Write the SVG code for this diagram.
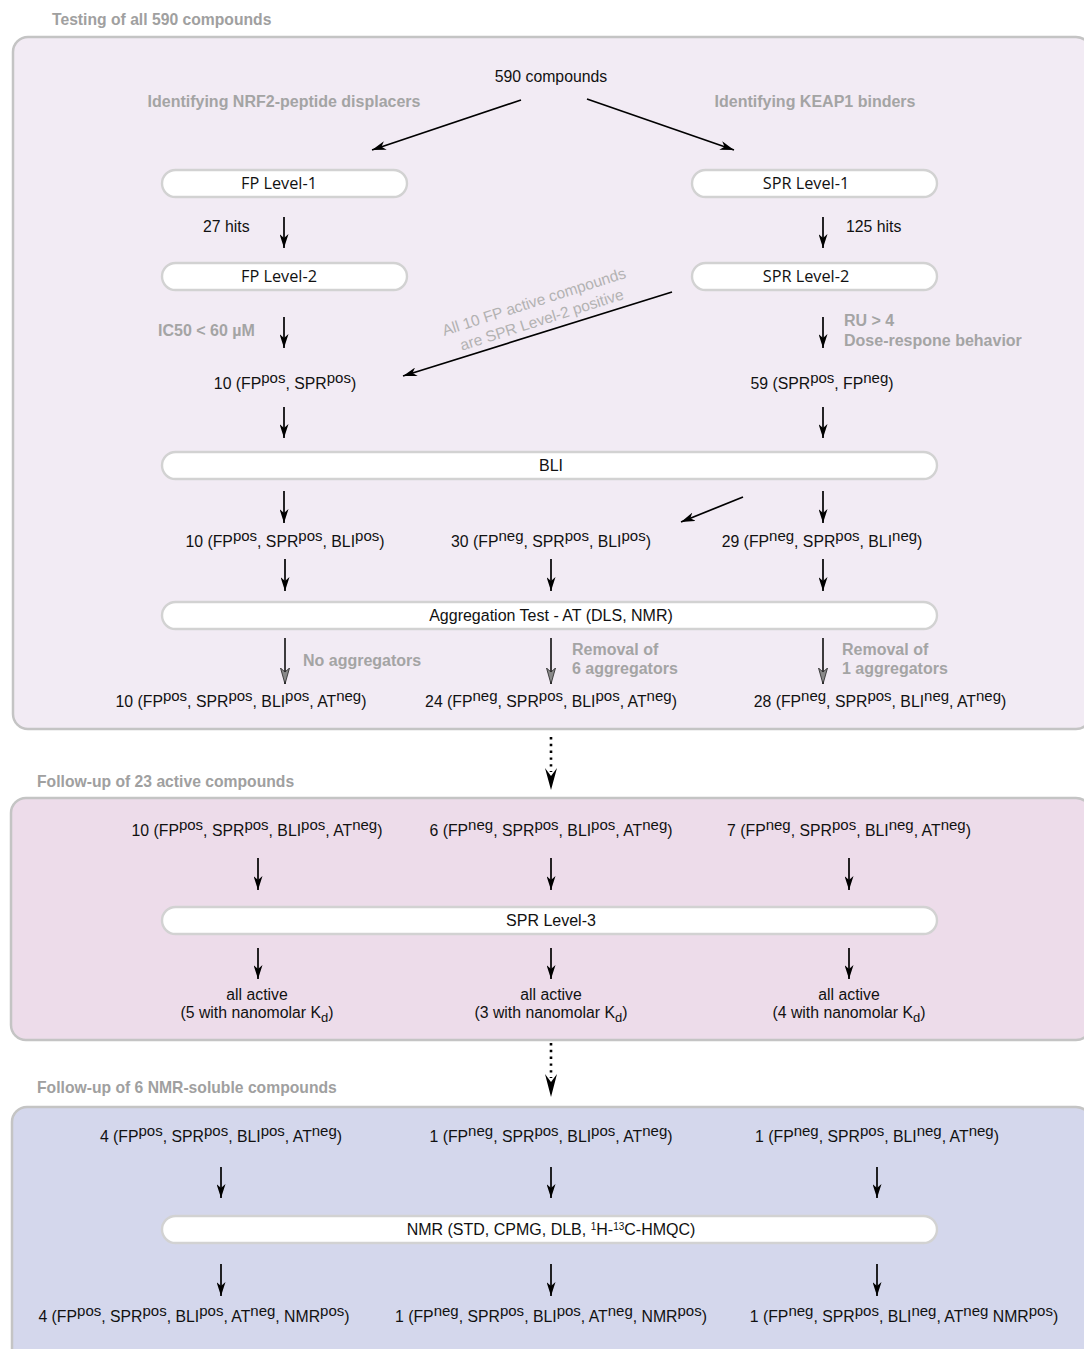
<svg xmlns="http://www.w3.org/2000/svg" width="1084" height="1349" viewBox="0 0 1084 1349">
<defs>
<style>
.t{font-family:"Liberation Sans",Arial,sans-serif;font-size:15.8px;fill:#111;text-anchor:middle}
.ts{text-anchor:start}
.sp{font-size:15px}
.sb{font-size:13px}
.g{font-family:"Liberation Sans",Arial,sans-serif;font-weight:bold;font-size:16px;fill:#a4a4a4}
.h{font-family:"Liberation Sans",Arial,sans-serif;font-weight:bold;font-size:15.7px;fill:#a0a0a0}
.rot{font-family:"Liberation Sans",Arial,sans-serif;font-size:15.5px;fill:#b2b2b2;text-anchor:middle}
.pl{font-family:"Open Sans","Noto Sans",sans-serif;font-size:16.3px;fill:#111;text-anchor:middle}
.pl2{font-family:"Liberation Sans",Arial,sans-serif;font-size:16px;fill:#111;text-anchor:middle}
.pill{fill:#fff;stroke:#d2d2d2;stroke-width:2.4}
.sec{stroke:#c4c4c4;stroke-width:2.5}
.c{stroke:#000;stroke-width:1.7;fill:none;marker-end:url(#ah)}
.c2{stroke:#000;stroke-width:1.5;fill:none;marker-end:url(#ah2)}
.dot{stroke:#000;stroke-width:2.6;stroke-dasharray:2.4 4.4;fill:none}
</style>
<marker id="ah" viewBox="0 0 14 9" refX="14" refY="4.5" markerWidth="14" markerHeight="9" markerUnits="userSpaceOnUse" orient="auto">
<path d="M0,0 L14,4.5 L0,9 L4,4.5 z" fill="#000"/>
</marker>
<marker id="ah2" viewBox="0 0 16 10" refX="16" refY="5" markerWidth="16" markerHeight="10" markerUnits="userSpaceOnUse" orient="auto">
<path d="M0,0.5 L16,5 L0,9.5 L4,5 z" fill="#8a8a8a" stroke="#222" stroke-width="0.8"/>
</marker>
</defs>
<rect width="1084" height="1349" fill="#fff"/>

<g id="section1">
<text class="h" x="52" y="25">Testing of all 590 compounds</text>
<rect class="sec" x="13" y="37" width="1078" height="692" rx="15" fill="#f2ebf4"/>
</g>
<g id="section2">
<text class="h" x="37" y="787">Follow-up of 23 active compounds</text>
<rect class="sec" x="11" y="798" width="1080" height="242" rx="15" fill="#eddcea"/>
</g>
<g id="section3">
<text class="h" x="37" y="1093">Follow-up of 6 NMR-soluble compounds</text>
<rect class="sec" x="12" y="1107" width="1079" height="260" rx="15" fill="#d4d7ec"/>
</g>

<g id="n590"><text class="t" x="551" y="82">590 compounds</text></g>
<g id="lblNRF2"><text class="g" x="284" y="107" text-anchor="middle">Identifying NRF2-peptide displacers</text></g>
<g id="lblKEAP1"><text class="g" x="815" y="107" text-anchor="middle">Identifying KEAP1 binders</text></g>

<g id="fp1"><rect class="pill" x="162" y="170" width="245" height="27" rx="13.5"/><text class="pl" x="279" y="189">FP Level-1</text></g>
<g id="spr1"><rect class="pill" x="692" y="170" width="245" height="27" rx="13.5"/><text class="pl" x="806" y="189">SPR Level-1</text></g>
<g id="lbl27"><text class="t ts" x="203" y="232">27 hits</text></g>
<g id="lbl125"><text class="t ts" x="846" y="232">125 hits</text></g>
<g id="fp2"><rect class="pill" x="162" y="263" width="245" height="27" rx="13.5"/><text class="pl" x="279" y="282">FP Level-2</text></g>
<g id="spr2"><rect class="pill" x="692" y="263" width="245" height="27" rx="13.5"/><text class="pl" x="806" y="282">SPR Level-2</text></g>
<g id="lblIC50"><text class="g" x="158" y="336">IC50 &lt; 60 µM</text></g>
<g id="lblRU"><text class="g" x="844" y="326">RU &gt; 4</text><text class="g" x="844" y="346">Dose-respone behavior</text></g>
<g id="lblAll10" transform="translate(534,302) rotate(-17.7)">
<text class="rot" x="0" y="5">All 10 FP active compounds</text>
<text class="rot" x="2" y="24.5">are SPR Level-2 positive</text>
</g>
<g id="n10a"><text class="t" x="285" y="389">10 (FP<tspan class="sp" dy="-6">pos</tspan><tspan dy="6">, SPR</tspan><tspan class="sp" dy="-6">pos</tspan><tspan dy="6">)</tspan></text></g>
<g id="n59"><text class="t" x="822" y="389">59 (SPR<tspan class="sp" dy="-6">pos</tspan><tspan dy="6">, FP</tspan><tspan class="sp" dy="-6">neg</tspan><tspan dy="6">)</tspan></text></g>
<g id="bli"><rect class="pill" x="162" y="452" width="775" height="27" rx="13.5"/><text class="pl2" x="551" y="471">BLI</text></g>
<g id="n10b"><text class="t" x="285" y="547">10 (FP<tspan class="sp" dy="-6">pos</tspan><tspan dy="6">, SPR</tspan><tspan class="sp" dy="-6">pos</tspan><tspan dy="6">, BLI</tspan><tspan class="sp" dy="-6">pos</tspan><tspan dy="6">)</tspan></text></g>
<g id="n30"><text class="t" x="551" y="547">30 (FP<tspan class="sp" dy="-6">neg</tspan><tspan dy="6">, SPR</tspan><tspan class="sp" dy="-6">pos</tspan><tspan dy="6">, BLI</tspan><tspan class="sp" dy="-6">pos</tspan><tspan dy="6">)</tspan></text></g>
<g id="n29"><text class="t" x="822" y="547">29 (FP<tspan class="sp" dy="-6">neg</tspan><tspan dy="6">, SPR</tspan><tspan class="sp" dy="-6">pos</tspan><tspan dy="6">, BLI</tspan><tspan class="sp" dy="-6">neg</tspan><tspan dy="6">)</tspan></text></g>
<g id="at"><rect class="pill" x="162" y="602" width="775" height="27" rx="13.5"/><text class="pl2" x="551" y="621">Aggregation Test - AT (DLS, NMR)</text></g>
<g id="lblNoAgg"><text class="g" x="303" y="666">No aggregators</text></g>
<g id="lblRem6"><text class="g" x="572" y="655">Removal of</text><text class="g" x="572" y="674">6 aggregators</text></g>
<g id="lblRem1"><text class="g" x="842" y="655">Removal of</text><text class="g" x="842" y="674">1 aggregators</text></g>
<g id="n10c"><text class="t" x="241" y="707">10 (FP<tspan class="sp" dy="-6">pos</tspan><tspan dy="6">, SPR</tspan><tspan class="sp" dy="-6">pos</tspan><tspan dy="6">, BLI</tspan><tspan class="sp" dy="-6">pos</tspan><tspan dy="6">, AT</tspan><tspan class="sp" dy="-6">neg</tspan><tspan dy="6">)</tspan></text></g>
<g id="n24"><text class="t" x="551" y="707">24 (FP<tspan class="sp" dy="-6">neg</tspan><tspan dy="6">, SPR</tspan><tspan class="sp" dy="-6">pos</tspan><tspan dy="6">, BLI</tspan><tspan class="sp" dy="-6">pos</tspan><tspan dy="6">, AT</tspan><tspan class="sp" dy="-6">neg</tspan><tspan dy="6">)</tspan></text></g>
<g id="n28"><text class="t" x="880" y="707">28 (FP<tspan class="sp" dy="-6">neg</tspan><tspan dy="6">, SPR</tspan><tspan class="sp" dy="-6">pos</tspan><tspan dy="6">, BLI</tspan><tspan class="sp" dy="-6">neg</tspan><tspan dy="6">, AT</tspan><tspan class="sp" dy="-6">neg</tspan><tspan dy="6">)</tspan></text></g>

<g id="s2a"><text class="t" x="257" y="836">10 (FP<tspan class="sp" dy="-6">pos</tspan><tspan dy="6">, SPR</tspan><tspan class="sp" dy="-6">pos</tspan><tspan dy="6">, BLI</tspan><tspan class="sp" dy="-6">pos</tspan><tspan dy="6">, AT</tspan><tspan class="sp" dy="-6">neg</tspan><tspan dy="6">)</tspan></text></g>
<g id="s2b"><text class="t" x="551" y="836">6 (FP<tspan class="sp" dy="-6">neg</tspan><tspan dy="6">, SPR</tspan><tspan class="sp" dy="-6">pos</tspan><tspan dy="6">, BLI</tspan><tspan class="sp" dy="-6">pos</tspan><tspan dy="6">, AT</tspan><tspan class="sp" dy="-6">neg</tspan><tspan dy="6">)</tspan></text></g>
<g id="s2c"><text class="t" x="849" y="836">7 (FP<tspan class="sp" dy="-6">neg</tspan><tspan dy="6">, SPR</tspan><tspan class="sp" dy="-6">pos</tspan><tspan dy="6">, BLI</tspan><tspan class="sp" dy="-6">neg</tspan><tspan dy="6">, AT</tspan><tspan class="sp" dy="-6">neg</tspan><tspan dy="6">)</tspan></text></g>
<g id="spr3"><rect class="pill" x="162" y="907" width="775" height="27" rx="13.5"/><text class="pl2" x="551" y="926">SPR Level-3</text></g>
<g id="s2ra"><text class="t" x="257" y="1000">all active</text><text class="t" x="257" y="1018">(5 with nanomolar K<tspan class="sb" dy="4">d</tspan><tspan dy="-4">)</tspan></text></g>
<g id="s2rb"><text class="t" x="551" y="1000">all active</text><text class="t" x="551" y="1018">(3 with nanomolar K<tspan class="sb" dy="4">d</tspan><tspan dy="-4">)</tspan></text></g>
<g id="s2rc"><text class="t" x="849" y="1000">all active</text><text class="t" x="849" y="1018">(4 with nanomolar K<tspan class="sb" dy="4">d</tspan><tspan dy="-4">)</tspan></text></g>

<g id="s3a"><text class="t" x="221" y="1142">4 (FP<tspan class="sp" dy="-6">pos</tspan><tspan dy="6">, SPR</tspan><tspan class="sp" dy="-6">pos</tspan><tspan dy="6">, BLI</tspan><tspan class="sp" dy="-6">pos</tspan><tspan dy="6">, AT</tspan><tspan class="sp" dy="-6">neg</tspan><tspan dy="6">)</tspan></text></g>
<g id="s3b"><text class="t" x="551" y="1142">1 (FP<tspan class="sp" dy="-6">neg</tspan><tspan dy="6">, SPR</tspan><tspan class="sp" dy="-6">pos</tspan><tspan dy="6">, BLI</tspan><tspan class="sp" dy="-6">pos</tspan><tspan dy="6">, AT</tspan><tspan class="sp" dy="-6">neg</tspan><tspan dy="6">)</tspan></text></g>
<g id="s3c"><text class="t" x="877" y="1142">1 (FP<tspan class="sp" dy="-6">neg</tspan><tspan dy="6">, SPR</tspan><tspan class="sp" dy="-6">pos</tspan><tspan dy="6">, BLI</tspan><tspan class="sp" dy="-6">neg</tspan><tspan dy="6">, AT</tspan><tspan class="sp" dy="-6">neg</tspan><tspan dy="6">)</tspan></text></g>
<g id="nmr"><rect class="pill" x="162" y="1216" width="775" height="27" rx="13.5"/><text class="pl2" x="551" y="1235">NMR (STD, CPMG, DLB, <tspan style="font-size:10px" dy="-5">1</tspan><tspan dy="5">H-</tspan><tspan style="font-size:10px" dy="-5">13</tspan><tspan dy="5">C-HMQC)</tspan></text></g>
<g id="s3ra"><text class="t" x="194" y="1322">4 (FP<tspan class="sp" dy="-6">pos</tspan><tspan dy="6">, SPR</tspan><tspan class="sp" dy="-6">pos</tspan><tspan dy="6">, BLI</tspan><tspan class="sp" dy="-6">pos</tspan><tspan dy="6">, AT</tspan><tspan class="sp" dy="-6">neg</tspan><tspan dy="6">, NMR</tspan><tspan class="sp" dy="-6">pos</tspan><tspan dy="6">)</tspan></text></g>
<g id="s3rb"><text class="t" x="551" y="1322">1 (FP<tspan class="sp" dy="-6">neg</tspan><tspan dy="6">, SPR</tspan><tspan class="sp" dy="-6">pos</tspan><tspan dy="6">, BLI</tspan><tspan class="sp" dy="-6">pos</tspan><tspan dy="6">, AT</tspan><tspan class="sp" dy="-6">neg</tspan><tspan dy="6">, NMR</tspan><tspan class="sp" dy="-6">pos</tspan><tspan dy="6">)</tspan></text></g>
<g id="s3rc"><text class="t" x="904" y="1322">1 (FP<tspan class="sp" dy="-6">neg</tspan><tspan dy="6">, SPR</tspan><tspan class="sp" dy="-6">pos</tspan><tspan dy="6">, BLI</tspan><tspan class="sp" dy="-6">neg</tspan><tspan dy="6">, AT</tspan><tspan class="sp" dy="-6">neg</tspan><tspan dy="6"> NMR</tspan><tspan class="sp" dy="-6">pos</tspan><tspan dy="6">)</tspan></text></g>

<g id="connectors">
<line class="c" x1="521" y1="100" x2="372" y2="150"/>
<line class="c" x1="587" y1="99" x2="734" y2="150"/>
<line class="c" x1="284" y1="217" x2="284" y2="248"/>
<line class="c" x1="823" y1="217" x2="823" y2="248"/>
<line class="c" x1="284" y1="317" x2="284" y2="348"/>
<line class="c" x1="823" y1="317" x2="823" y2="348"/>
<line class="c" x1="672" y1="292" x2="403" y2="376"/>
<line class="c" x1="284" y1="407" x2="284" y2="438"/>
<line class="c" x1="823" y1="407" x2="823" y2="438"/>
<line class="c" x1="284" y1="491" x2="284" y2="523"/>
<line class="c" x1="823" y1="491" x2="823" y2="523"/>
<line class="c" x1="743" y1="497" x2="681" y2="522"/>
<line class="c" x1="285" y1="559" x2="285" y2="591"/>
<line class="c" x1="551" y1="559" x2="551" y2="591"/>
<line class="c" x1="823" y1="559" x2="823" y2="591"/>
<line class="c2" x1="285" y1="638" x2="285" y2="684"/>
<line class="c2" x1="551" y1="638" x2="551" y2="684"/>
<line class="c2" x1="823" y1="638" x2="823" y2="684"/>
<line class="dot" x1="551" y1="737" x2="551" y2="772"/>
<path d="M545,768 L551,790 L557,768 L551,776 z" fill="#000"/>
<line class="c" x1="258" y1="858" x2="258" y2="890"/>
<line class="c" x1="551" y1="858" x2="551" y2="890"/>
<line class="c" x1="849" y1="858" x2="849" y2="890"/>
<line class="c" x1="258" y1="948" x2="258" y2="979"/>
<line class="c" x1="551" y1="948" x2="551" y2="979"/>
<line class="c" x1="849" y1="948" x2="849" y2="979"/>
<line class="dot" x1="551" y1="1043" x2="551" y2="1078"/>
<path d="M545,1074 L551,1097 L557,1074 L551,1082 z" fill="#000"/>
<line class="c" x1="221" y1="1167" x2="221" y2="1198"/>
<line class="c" x1="551" y1="1167" x2="551" y2="1198"/>
<line class="c" x1="877" y1="1167" x2="877" y2="1198"/>
<line class="c" x1="221" y1="1264" x2="221" y2="1296"/>
<line class="c" x1="551" y1="1264" x2="551" y2="1296"/>
<line class="c" x1="877" y1="1264" x2="877" y2="1296"/>
</g>
</svg>
